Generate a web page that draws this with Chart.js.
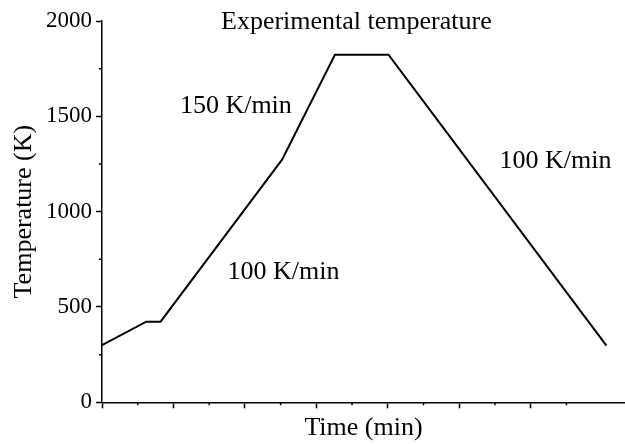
<!DOCTYPE html>
<html>
<head>
<meta charset="utf-8">
<script src="https://cdn.jsdelivr.net/npm/chart.js@4/dist/chart.umd.min.js"></script>
<style>
  html, body { margin: 0; padding: 0; background: #ffffff; }
  canvas { display: block; }
</style>
</head>
<body>
<canvas id="c" width="625" height="444"></canvas>
<script>
// ---- Data ----
const timeMin = [0, 3.1, 4.1, 12.6, 16.3, 20.05, 35.3];
const temperatureK = [300, 423, 423, 1273, 1823, 1823, 297];
const yMajorTicks = [0, 500, 1000, 1500, 2000];
const xMajorStep = 5;
const yMinorValues = [250, 750, 1250, 1750];
const xMinorValues = [2.5, 7.5, 12.5, 17.5, 22.5, 27.5, 32.5];

// Text labels placed in data coordinates
const labelTexts = ['Experimental temperature', '150 K/min', '100 K/min', '100 K/min'];
const labelX = [17.8, 5.45, 8.78, 27.82];
const labelY = [1956, 1517, 649, 1231];
const labelAlign = ['center', 'left', 'left', 'left'];

const FONT = '"Liberation Serif", "Times New Roman", Times, serif';
Chart.defaults.font.family = FONT;
Chart.defaults.color = '#000';

const points = timeMin.map((t, i) => ({ x: t, y: temperatureK[i] }));

const extrasPlugin = {
  id: 'extras',
  afterDraw(chart) {
    const ctx = chart.ctx;
    const xs = chart.scales.x, ys = chart.scales.y;
    const area = chart.chartArea;
    ctx.save();
    ctx.strokeStyle = '#000';
    ctx.lineWidth = 1.5;
    ctx.beginPath();
    yMinorValues.forEach(v => {
      const py = ys.getPixelForValue(v);
      ctx.moveTo(area.left - 3, py);
      ctx.lineTo(area.left, py);
    });
    xMinorValues.forEach(v => {
      const px = xs.getPixelForValue(v);
      ctx.moveTo(px, area.bottom);
      ctx.lineTo(px, area.bottom + 3);
    });
    ctx.stroke();
    ctx.fillStyle = '#000';
    ctx.font = '26px ' + FONT;
    ctx.textBaseline = 'alphabetic';
    labelTexts.forEach((txt, i) => {
      ctx.textAlign = labelAlign[i];
      ctx.fillText(txt, xs.getPixelForValue(labelX[i]), ys.getPixelForValue(labelY[i]));
    });
    ctx.restore();
  }
};

new Chart(document.getElementById('c'), {
  type: 'line',
  data: {
    datasets: [{
      data: points,
      borderColor: '#000',
      borderWidth: 2,
      pointRadius: 0,
      tension: 0,
      fill: false
    }]
  },
  options: {
    responsive: false,
    animation: false,
    devicePixelRatio: 1,
    layout: { padding: { top: 21, right: 0, bottom: 0.5, left: 0 } },
    plugins: { legend: { display: false }, tooltip: { enabled: false }, title: { display: false } },
    scales: {
      x: {
        type: 'linear',
        min: 0,
        max: 36.6,
        afterBuildTicks: (scale) => {
          scale.ticks = scale.ticks.filter(t => Math.abs(t.value / xMajorStep - Math.round(t.value / xMajorStep)) < 1e-6);
        },
        ticks: { stepSize: xMajorStep, display: false },
        grid: { display: true, drawOnChartArea: false, drawTicks: true, tickLength: 6, tickWidth: 1.5, tickColor: '#000' },
        border: { display: true, color: '#000', width: 1.5 },
        title: { display: true, text: 'Time (min)', font: { size: 26, family: FONT }, color: '#000', padding: { top: 4, bottom: 0 } }
      },
      y: {
        type: 'linear',
        min: 0,
        max: 2000,
        afterBuildTicks: (scale) => {
          scale.ticks = yMajorTicks.map(v => ({ value: v }));
        },
        ticks: { stepSize: 500, padding: 4, font: { size: 23, family: FONT }, color: '#000', callback: (v) => String(v) },
        grid: { display: true, drawOnChartArea: false, drawTicks: true, tickLength: 6, tickWidth: 1.5, tickColor: '#000' },
        border: { display: true, color: '#000', width: 1.5 },
        title: { display: true, text: 'Temperature (K)', font: { size: 26, family: FONT }, color: '#000', padding: { top: 8.6, bottom: 2.2 } }
      }
    }
  },
  plugins: [extrasPlugin]
});
</script>
</body>
</html>
